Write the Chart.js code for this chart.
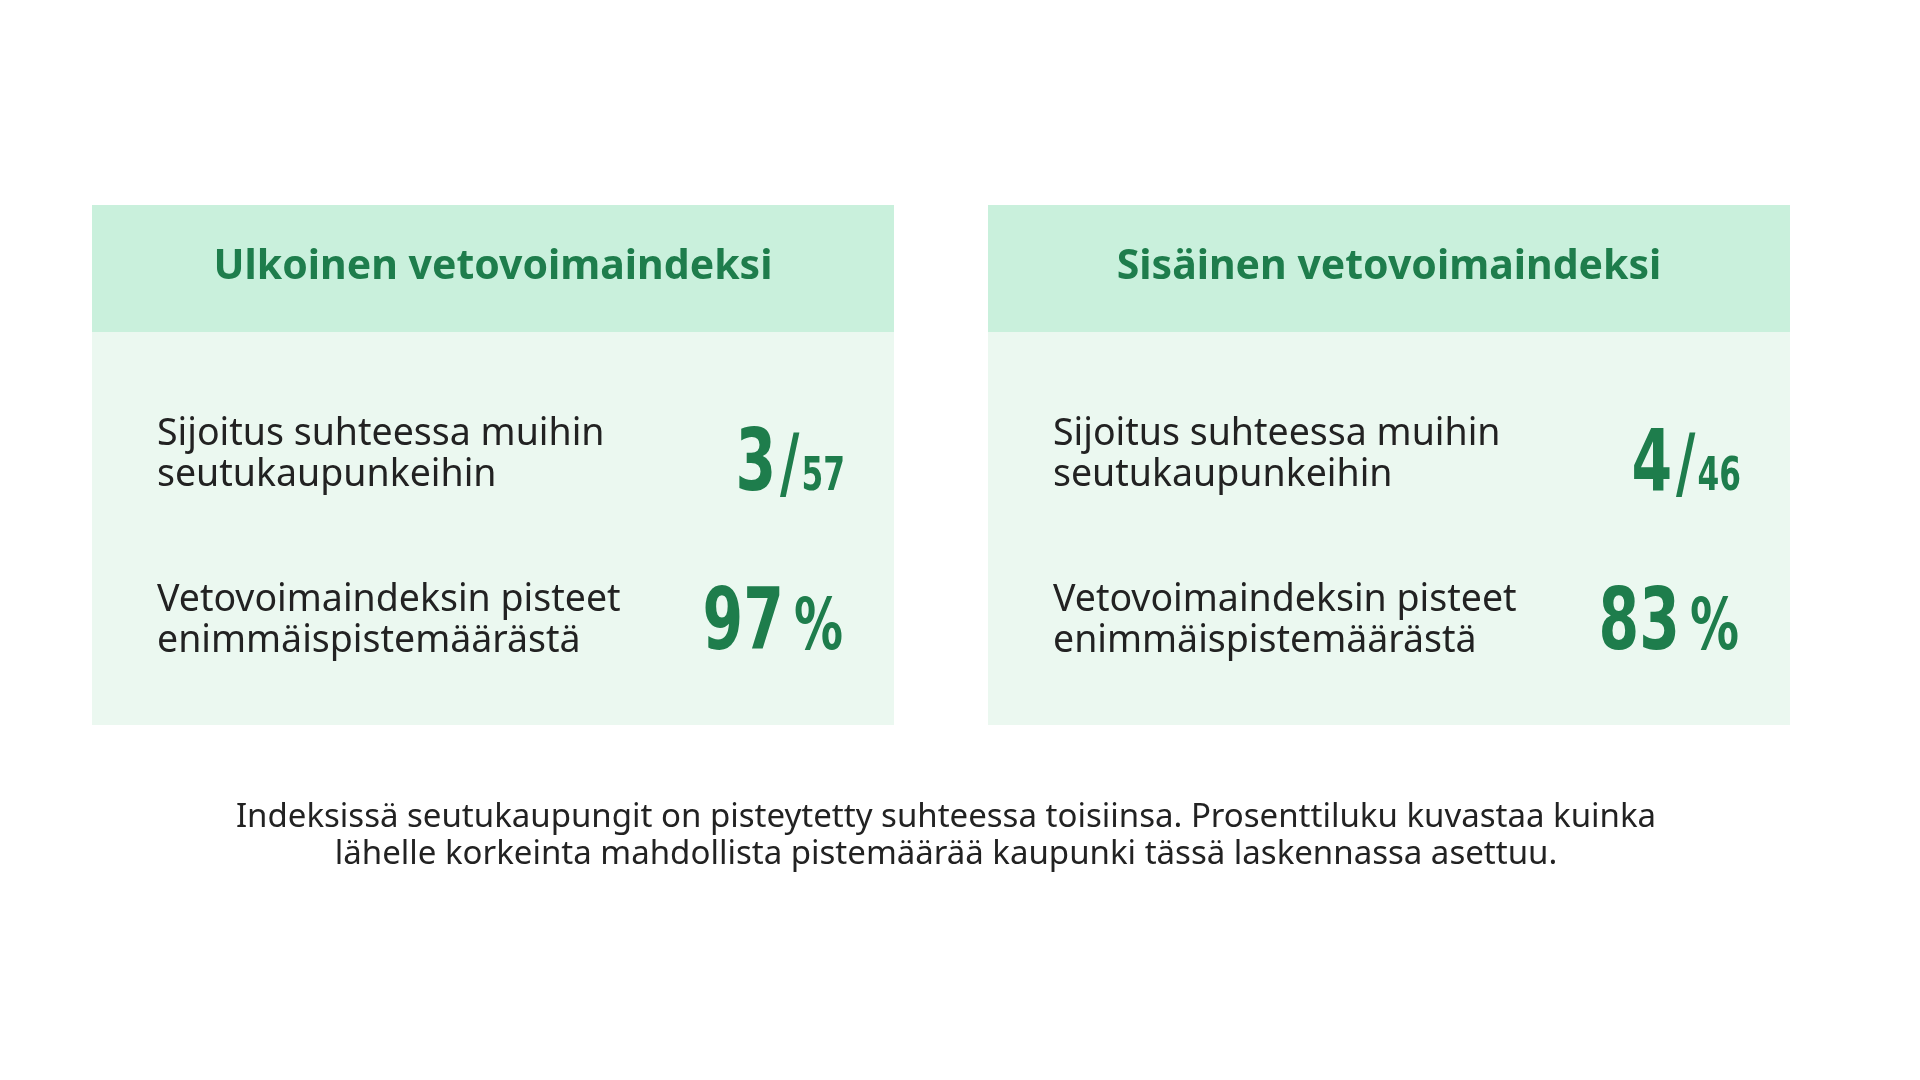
<!DOCTYPE html>
<html><head><meta charset="utf-8">
<script src="https://cdn.jsdelivr.net/npm/chart.js@4"></script>
<style>html,body{margin:0;background:#fff}#c{display:block}</style>
</head><body>
<div style="width:1920px;height:1080px"><canvas id="c"></canvas></div>
<script>
// Data
const titles = ['Ulkoinen vetovoimaindeksi', 'Sisäinen vetovoimaindeksi'];
const ranks = [3, 4];
const totals = [57, 46];
const scores = [97, 83];
const rowLabels = [['Sijoitus suhteessa muihin', 'seutukaupunkeihin'], ['Vetovoimaindeksin pisteet', 'enimmäispistemäärästä']];
const footer = ['Indeksissä seutukaupungit on pisteytetty suhteessa toisiinsa. Prosenttiluku kuvastaa kuinka',
    'lähelle korkeinta mahdollista pistemäärää kaupunki tässä laskennassa asettuu.'];

const GREEN = '#1e7d4c';

// draws a condensed bold string right-aligned at x
function condensed(ctx, text, x, y, size) {
    ctx.save();
    ctx.font = `bold ${size}px "DejaVu Sans"`;
    ctx.textAlign = 'right';
    ctx.translate(x, y);
    ctx.scale(0.68, 1);
    ctx.fillText(text, 0, 0);
    const w = ctx.measureText(text).width * 0.68;
    ctx.restore();
    return w;
}

const panels = {
    id: 'panels',
    afterDraw(chart) {
        const ctx = chart.ctx;
        ctx.save();
        titles.forEach((t, i) => {
            const x0 = i === 0 ? 92 : 988, w = 802;
            ctx.fillStyle = '#c9f0dc';
            ctx.fillRect(x0, 205, w, 127);
            ctx.fillStyle = '#ebf8f0';
            ctx.fillRect(x0, 332, w, 393);
            ctx.fillStyle = GREEN;
            ctx.font = 'bold 41px "Noto Sans"';
            ctx.textAlign = 'center';
            ctx.textBaseline = 'middle';
            ctx.fillText(t, x0 + w / 2, 267);

            ctx.fillStyle = '#222';
            ctx.font = '37.5px "Noto Sans"';
            ctx.textAlign = 'left';
            ctx.fillText(rowLabels[0][0], x0 + 65, 434);
            ctx.fillText(rowLabels[0][1], x0 + 65, 475);
            ctx.fillText(rowLabels[1][0], x0 + 65, 600);
            ctx.fillText(rowLabels[1][1], x0 + 65, 641);

            ctx.fillStyle = GREEN;
            ctx.textBaseline = 'alphabetic';
            const right = x0 + 753;
            let w1 = condensed(ctx, String(totals[i]), right, 490, 46);
            let w2 = condensed(ctx, '/', right - w1 - 2, 490, 78);
            condensed(ctx, String(ranks[i]), right - w1 - w2 - 6, 490, 86);
            let w3 = condensed(ctx, '%', right - 2, 649, 72);
            condensed(ctx, String(scores[i]), right - w3 - 12, 649, 86);
        });
        ctx.fillStyle = '#222';
        ctx.font = '33px "Noto Sans"';
        ctx.textAlign = 'center';
        ctx.textBaseline = 'middle';
        ctx.fillText(footer[0], 946, 818);
        ctx.fillText(footer[1], 946, 855);
        ctx.restore();
    }
};

new Chart(document.getElementById('c'), {
    type: 'bar',
    data: { labels: titles, datasets: [{ data: [], backgroundColor: 'transparent' }] },
    options: {
        responsive: true, maintainAspectRatio: false, animation: false,
        plugins: { legend: { display: false }, tooltip: { enabled: false } },
        scales: { x: { display: false }, y: { display: false } }
    },
    plugins: [panels]
});
</script>
</body></html>
